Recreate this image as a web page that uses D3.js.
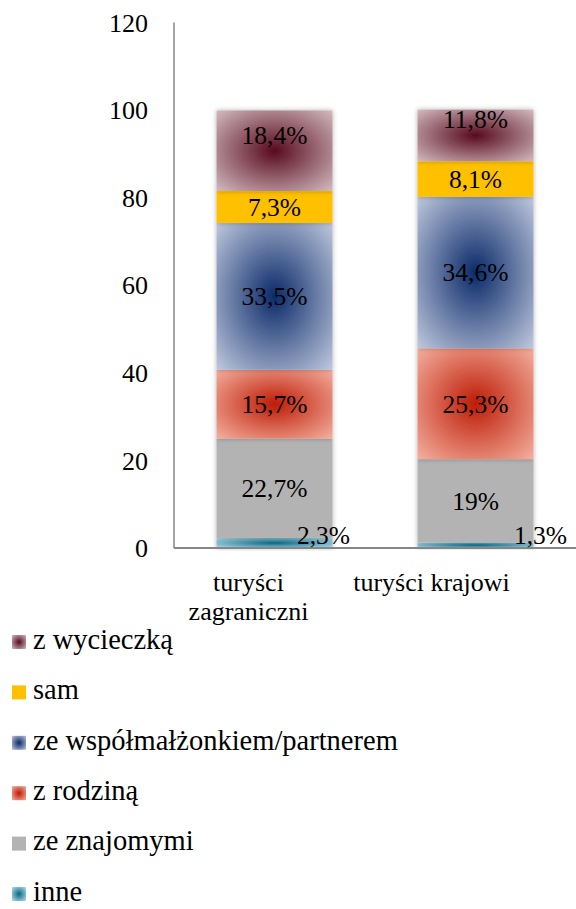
<!DOCTYPE html>
<html>
<head>
<meta charset="utf-8">
<script src="https://cdn.jsdelivr.net/npm/d3@7"></script>
<style>
  body { margin: 0; background: #fff; }
  svg text { font-family: "Liberation Serif", "DejaVu Serif", serif; fill: #000; }
</style>
</head>
<body>
<svg id="chart" width="576" height="909"></svg>
<script>
// categories and series (stack order, bottom to top)
const categories = ["turyści zagraniczni", "turyści krajowi"];
const categoryLines = [["turyści", "zagraniczni"], ["turyści krajowi"]];
const seriesNames = ["inne", "ze znajomymi", "z rodziną", "ze współmałżonkiem/partnerem", "sam", "z wycieczką"];

// values in %
const inne = [2.3, 1.3];
const zeZnajomymi = [22.7, 19];
const zRodzina = [15.7, 25.3];
const zPartnerem = [33.5, 34.6];
const sam = [7.3, 8.1];
const zWycieczka = [18.4, 11.8];

const yTicks = [0, 20, 40, 60, 80, 100, 120];

// colours: [centre, edge] of the radial fill
const seriesColors = [
  ["#0a6784", "#b8e0ee"],
  ["#b3b3b3", "#b3b3b3"],
  ["#bd1c06", "#f5b0a0"],
  ["#0b2a69", "#c0c9de"],
  ["#ffc000", "#ffc000"],
  ["#580a1e", "#d3bcc0"]
];

const seriesValues = [inne, zeZnajomymi, zRodzina, zPartnerem, sam, zWycieczka];

const svg = d3.select("#chart");
const MARGIN = { left: 174, right: 0, top: 22.4, bottom: 361 };
const width = 576, height = 909;

// build rows for the stack
const rows = categories.map((c, i) => {
  const r = { cat: c };
  seriesNames.forEach((s, k) => { r[s] = seriesValues[k][i]; });
  return r;
});
const stacked = d3.stack().keys(seriesNames)(rows);

const x = d3.scaleBand()
  .domain(categories)
  .range([MARGIN.left, width - MARGIN.right])
  .paddingInner(0.423)
  .paddingOuter(0.2115);

const y = d3.scaleLinear()
  .domain([0, 120])
  .range([height - MARGIN.bottom, MARGIN.top]);

const defs = svg.append("defs");

// radial gradients, one per series
seriesNames.forEach((s, k) => {
  const g = defs.append("radialGradient")
    .attr("id", "grad" + k)
    .attr("cx", "50%").attr("cy", "50%").attr("r", "71%");
  g.append("stop").attr("offset", "0%").attr("stop-color", seriesColors[k][0]);
  g.append("stop").attr("offset", "100%").attr("stop-color", seriesColors[k][1]);
});

// soft shadow round the bars
const shadow = defs.append("filter").attr("id", "shadow")
  .attr("x", "-20%").attr("y", "-20%").attr("width", "140%").attr("height", "140%");
shadow.append("feGaussianBlur").attr("in", "SourceAlpha").attr("stdDeviation", 2.5).attr("result", "blur");
shadow.append("feFlood").attr("flood-color", "#000").attr("flood-opacity", 0.3);
shadow.append("feComposite").attr("in2", "blur").attr("operator", "in").attr("result", "sh");
const merge = shadow.append("feMerge");
merge.append("feMergeNode").attr("in", "sh");
merge.append("feMergeNode").attr("in", "SourceGraphic");

// bars
const bars = svg.append("g");
stacked.forEach((layer, k) => {
  bars.append("g")
    .selectAll("rect")
    .data(layer)
    .join("rect")
    .attr("x", d => x(d.data.cat))
    .attr("width", x.bandwidth())
    .attr("y", d => y(d[1]))
    .attr("height", d => y(d[0]) - y(d[1]))
    .attr("fill", "url(#grad" + k + ")")
    .attr("filter", "url(#shadow)");
});

// axes lines (no ticks)
svg.append("line")
  .attr("x1", MARGIN.left).attr("x2", MARGIN.left)
  .attr("y1", y(120)).attr("y2", y(0))
  .attr("stroke", "#868686").attr("stroke-width", 1.5);
svg.append("line")
  .attr("x1", MARGIN.left).attr("x2", width)
  .attr("y1", y(0)).attr("y2", y(0))
  .attr("stroke", "#868686").attr("stroke-width", 2);

// y tick labels
svg.append("g").selectAll("text")
  .data(yTicks)
  .join("text")
  .attr("x", 148)
  .attr("y", d => y(d))
  .attr("dy", "0.35em")
  .attr("text-anchor", "end")
  .style("font-size", "26px")
  .text(d => d);

// data labels
const fmt = v => String(v).replace(".", ",") + "%";
const smallLabelDx = [49, 65]; // "inne" labels sit to the right
const topLabelDy = -16;
stacked.forEach((layer, k) => {
  svg.append("g").selectAll("text")
    .data(layer)
    .join("text")
    .attr("x", (d, i) => x(d.data.cat) + x.bandwidth() / 2 + (k === 0 ? smallLabelDx[i] : 0))
    .attr("y", d => k === 0 ? y(0) - 13 : (y(d[0]) + y(d[1])) / 2 + (k === seriesNames.length - 1 ? topLabelDy : 0))
    .attr("dy", "0.35em")
    .attr("text-anchor", "middle")
    .style("font-size", "25.5px")
    .text((d, i) => fmt(seriesValues[k][i]));
});

// category labels
const catLabelDx = [-26, -44];
categories.forEach((c, i) => {
  const t = svg.append("text")
    .attr("x", x(c) + x.bandwidth() / 2 + catLabelDx[i])
    .attr("y", 591)
    .attr("text-anchor", "middle")
    .style("font-size", "26px");
  categoryLines[i].forEach((line, j) => {
    t.append("tspan")
      .attr("x", x(c) + x.bandwidth() / 2 + catLabelDx[i])
      .attr("dy", j === 0 ? 0 : 29)
      .text(line);
  });
});

// legend, top series first
const legendOrder = d3.range(seriesNames.length).reverse();
const legend = svg.append("g").selectAll("g")
  .data(legendOrder)
  .join("g")
  .attr("transform", (k, i) => `translate(12, ${642 + i * 50.4})`);
legend.append("rect")
  .attr("x", 0).attr("y", -7)
  .attr("width", 14).attr("height", 14)
  .attr("fill", k => "url(#grad" + k + ")");
legend.append("text")
  .attr("x", 21)
  .attr("y", 0)
  .attr("dy", "0.24em")
  .style("font-size", "28.5px")
  .text(k => seriesNames[k]);
</script>
</body>
</html>
